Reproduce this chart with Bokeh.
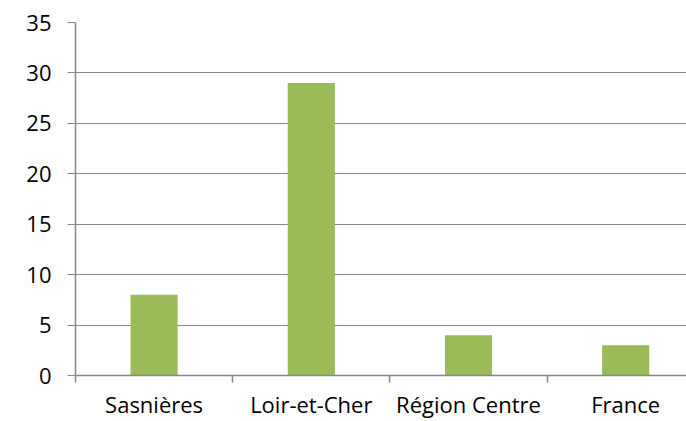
from bokeh.plotting import figure
from bokeh.models import Range1d, FixedTicker, ColumnDataSource
from bokeh.embed import file_html
from bokeh.resources import INLINE

categories = ["Sasnières", "Loir-et-Cher", "Région Centre", "France"]
values = [8, 29, 4, 3]
y_ticks = [0, 5, 10, 15, 20, 25, 30, 35]

xs = [i + 0.5 for i in range(len(categories))]
src = ColumnDataSource(dict(x=xs, top=values, cat=categories))

p = figure(width=686, height=421, output_backend="svg", toolbar_location=None,
           x_range=Range1d(0, 3.887), y_range=Range1d(0, 35),
           min_border_left=75, min_border_right=0, min_border_top=22, min_border_bottom=45)
p.outline_line_color = None
p.background_fill_color = "white"
p.border_fill_color = "white"

p.vbar(x="x", top="top", width=0.3, bottom=0, source=src, color="#9BBB59", line_color=None)

font = "Open Sans"
grey = "#878787"

p.xgrid.grid_line_color = None
p.ygrid.grid_line_color = grey
p.ygrid.grid_line_width = 1.2
p.ygrid.ticker = FixedTicker(ticks=y_ticks[1:])

p.yaxis.ticker = FixedTicker(ticks=y_ticks)
p.yaxis.axis_line_color = grey
p.yaxis.axis_line_width = 1.5
p.yaxis.major_tick_line_color = grey
p.yaxis.major_tick_out = 8
p.yaxis.major_tick_in = 0
p.yaxis.minor_tick_line_color = None
p.yaxis.major_label_text_font = font
p.yaxis.major_label_text_font_size = "22px"
p.yaxis.major_label_text_color = "#000000"
p.yaxis.major_label_standoff = 16

p.xaxis.ticker = FixedTicker(ticks=xs, minor_ticks=list(range(len(categories) + 1)))
p.xaxis.major_label_overrides = {x: c for x, c in zip(xs, categories)}
p.xaxis.axis_line_color = grey
p.xaxis.axis_line_width = 1.5
p.xaxis.major_tick_line_color = None
p.xaxis.minor_tick_line_color = grey
p.xaxis.minor_tick_line_width = 1.5
p.xaxis.minor_tick_out = 7
p.xaxis.minor_tick_in = 0
p.xaxis.major_tick_out = 7
p.xaxis.major_tick_in = 0
p.xaxis.major_label_text_font = font
p.xaxis.major_label_text_font_size = "22px"
p.xaxis.major_label_text_color = "#000000"
p.xaxis.major_label_standoff = 6

open("out.html", "w").write(file_html(p, INLINE))
